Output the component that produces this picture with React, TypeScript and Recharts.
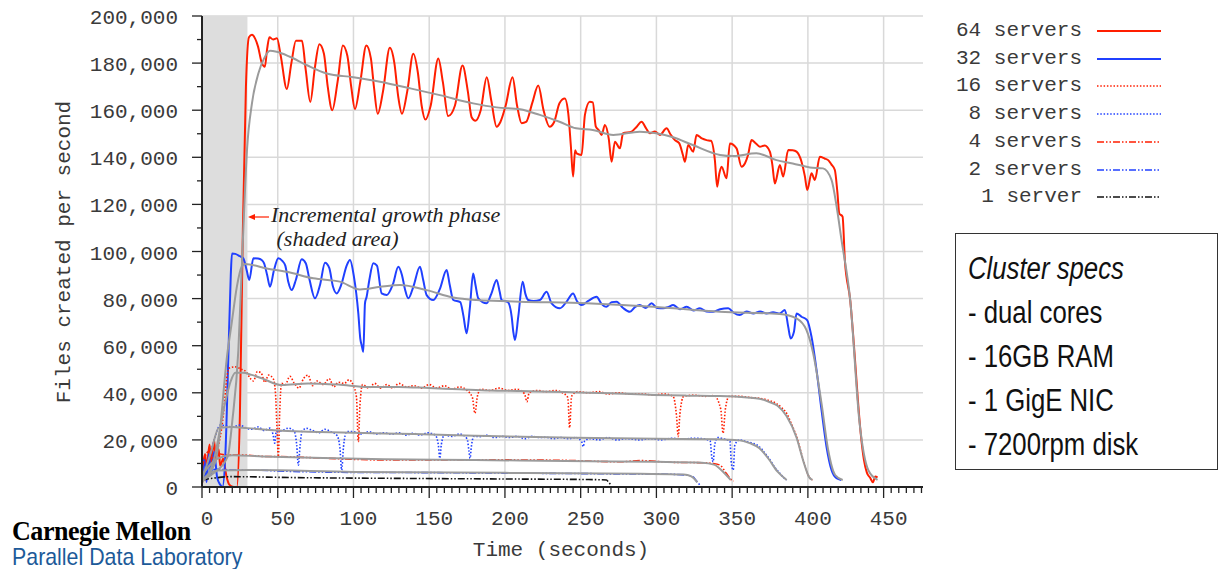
import { CartesianGrid, Line, LineChart, ReferenceArea, XAxis, YAxis } from "recharts";

type Pt = [number, number];

// [time (s), files created per second]
const servers64: Pt[] = [
  [0, 6000], [2, 14000], [3, 8000], [5, 18000], [6, 10000], [8, 20000], [9, 12000], [11, 16000],
  [12, 9000], [14, 12000], [16, 5000], [18, 1000], [21, 0], [23, 0], [25, 30000], [27, 110000],
  [29, 170000], [31, 191000], [33, 192000], [35, 190500], [37, 187000], [39.5, 180000], [41.5, 178500],
  [43, 186000], [44.5, 191000], [47, 190000], [49.5, 190500], [52, 183000], [56, 169000], [59, 180000],
  [62, 189500], [66, 189500], [68.5, 177000], [71.5, 163500], [74.5, 178000], [77.5, 188000],
  [80.5, 184000], [83, 170000], [86, 160000], [89.5, 172000], [93, 187500], [96, 183000], [98.5, 170000],
  [101, 160500], [104.5, 172000], [108.5, 187500], [111.5, 182000], [113.5, 170000], [116, 158500],
  [119.5, 168000], [124, 186500], [127, 180000], [129.5, 166000], [132, 158500], [135.5, 168000],
  [139.5, 184000], [142.5, 176000], [145, 162000], [147.5, 156000], [151, 162000], [156, 182000],
  [159, 172000], [162.5, 157500], [167, 162000], [172, 179000], [175.5, 168000], [178, 157000],
  [180.5, 155500], [184, 160000], [188, 174000], [191, 164000], [194.5, 153000], [197, 155000],
  [200.5, 162000], [205, 174000], [208, 162000], [211, 154500], [214, 155000], [218, 163000],
  [222, 170500], [225.5, 160000], [229.5, 153000], [232.5, 155000], [236, 163000], [239.5, 165000],
  [241.8, 158700], [243.5, 145000], [245, 131800], [246.3, 143000], [247.3, 141700], [250.6, 141000],
  [252.8, 158000], [256, 163600], [258, 163300], [260, 153000], [262, 151500], [263.8, 149500],
  [266, 153700], [268.5, 148000], [270.4, 138100], [272.6, 146600], [275.9, 143800], [278, 150200],
  [283.6, 150900], [287, 153000], [290.2, 155100], [293, 152500], [295.7, 150200], [299, 151000],
  [302.3, 149500], [306.7, 152300], [309.5, 149500], [312.2, 147300], [315, 146000], [317.5, 141000],
  [318.8, 138100], [321, 145200], [324.3, 142400], [326.5, 149500], [330, 148000], [333.1, 147300],
  [336, 147000], [338.6, 138800], [340.1, 127500], [341.5, 133000], [343, 136000], [346.3, 131100],
  [348.5, 145900], [352.9, 143800], [356.2, 136000], [358.5, 137500], [360.5, 141000], [362.8, 147300],
  [365.5, 146000], [368.3, 144500], [371.5, 145000], [374.9, 142400], [376.5, 137000], [378.2, 128900],
  [381.5, 136700], [383.7, 131800], [387, 143100], [390, 143000], [392.5, 142400], [395.8, 138100],
  [398, 132000], [399.6, 126100], [402.4, 133200], [404.6, 130400], [407.9, 140200], [411, 139500],
  [413.4, 138800], [415.5, 137000], [417.8, 134600], [419.5, 125000], [420.7, 116200], [422.9, 114800],
  [424.4, 96400], [428, 79000], [431, 55000], [433, 37000], [435, 22000], [437, 11500], [439, 6000],
  [441, 4000], [443, 2000], [444.5, 4500], [446, 4000],
];

const servers32: Pt[] = [
  [0, 3000], [1.5, 12000], [3, 2000], [4.5, 14000], [6, 5000], [8, 15000], [10, 4000], [12, 1000],
  [13.5, 0], [15.5, 15000], [17.4, 55300], [19, 90000], [19.8, 99200], [22, 99000], [25, 98000],
  [27.3, 97100], [29.5, 92000], [31.2, 87900], [33.9, 97100], [37, 97000], [39.4, 96400], [41, 95000],
  [43, 90000], [44.9, 85000], [47.5, 92000], [50.4, 97100], [53, 96000], [55, 94000], [57, 87000],
  [59.2, 83600], [62, 88000], [65.8, 96700], [68.5, 95000], [71, 88000], [74.6, 80100], [78, 86000],
  [81.2, 95200], [84, 93000], [86.5, 85000], [88.9, 82200], [92, 86000], [95.5, 94000], [97.7, 96400],
  [100.3, 89300], [103.2, 73700], [104.5, 63000], [105.5, 60000], [106.5, 57400], [107.6, 78000],
  [108.7, 80800], [110.5, 88000], [113.1, 95000], [115.5, 94000], [118.6, 82200], [122, 81500],
  [126, 86000], [129.6, 93500], [132, 90000], [134, 84000], [136.2, 80100], [139.5, 85000],
  [143.9, 93500], [146, 88000], [148.3, 81500], [152.7, 79400], [157, 84000], [161.5, 92100],
  [163.5, 86000], [165.9, 79400], [170.5, 78500], [172.5, 73000], [174.7, 65300], [176.9, 76500],
  [179, 90700], [180.5, 86000], [182.4, 80100], [187.9, 78000], [191, 82000], [194.5, 87900],
  [196.5, 83000], [197.8, 79400], [202, 78500], [204.5, 72000], [205.5, 66000], [206.6, 62400],
  [208.8, 72300], [211.7, 87200], [213.5, 82000], [215.4, 79400], [219, 79000], [223.1, 79400],
  [227.5, 82900], [230.8, 78000], [236.3, 75900], [240.5, 78500], [245, 82200], [247.5, 79000],
  [250.6, 77300], [255, 79000], [260.5, 80800], [263.5, 78000], [267, 76500], [270.5, 78500],
  [273.7, 78700], [278, 76000], [282.5, 74400], [286, 76500], [289, 77300], [293, 76000], [296.8, 78000],
  [300.5, 76000], [304.5, 75900], [308, 76500], [311, 77300], [315.5, 75500], [320, 76500],
  [324.5, 75000], [328.7, 75900], [333, 74500], [337.5, 74400], [342, 75500], [347.4, 75900],
  [351, 74000], [355, 73000], [359.5, 74500], [364, 73700], [368.5, 74500], [372.7, 73700],
  [377, 74200], [381.5, 73700], [384.8, 75200], [387, 68100], [388.6, 63100], [390.8, 65900],
  [392.5, 73700], [395.8, 72300], [399.5, 70900], [402.4, 63800], [405.7, 49700], [409, 32700],
  [412.3, 17100], [415.6, 7200], [418.9, 3700], [422, 3000],
];

const servers16: Pt[] = [
  [0, 2000], [5, 6000], [10, 15000], [14, 30000], [16.5, 47000], [18, 50500], [22, 51000], [26, 50000],
  [29, 49000], [32, 46000], [34, 45000], [36.5, 49000], [39, 48500], [41.5, 44500], [44, 47500],
  [47, 46000], [48.5, 40000], [49.5, 25000], [50.4, 12900], [51.2, 30000], [52.5, 44000], [55, 43500],
  [58, 47000], [61, 44000], [64, 42000], [67, 46000], [70, 47500], [73, 43000], [76, 45000], [80, 43500],
  [84, 46000], [87, 42500], [90, 44500], [94, 44000], [97, 45500], [100, 43000], [102, 38000],
  [103.2, 19200], [104.3, 35000], [106, 43500], [110, 42000], [114, 44000], [118, 42000], [122, 43500],
  [126, 42000], [130, 44000], [135, 42500], [140, 43000], [145, 42000], [150, 43500], [155, 42000],
  [160, 43000], [165, 41500], [170, 42500], [175, 41000], [178.5, 38000], [180.2, 31300], [181.8, 38500],
  [184, 41500], [190, 41000], [196, 42000], [202, 41000], [208, 41500], [213, 39500], [214.5, 36200],
  [216, 40000], [221, 41000], [227, 40500], [233, 41000], [238, 40000], [241.5, 38000], [242.7, 25200],
  [244, 38500], [248, 40500], [255, 40000], [262, 40500], [268, 39500], [275, 40000], [282, 39500],
  [290, 39500], [298, 39100], [305, 39500], [311, 38500], [313.3, 30000], [314.4, 21400], [315.5, 31000],
  [318, 38500], [325, 39000], [332, 38500], [338, 38800], [342.5, 33000], [344, 22800], [345.5, 33000],
  [348, 38500], [355, 38500], [362, 38000], [368, 37700], [373, 37000], [379, 35500], [383, 33500],
  [386, 31300], [389, 27000], [392.5, 21400], [396.9, 11500], [399, 7000], [401.3, 3800], [403, 3000],
];

const servers8: Pt[] = [
  [0, 2000], [3, 8000], [6, 15000], [9, 22000], [12, 26300], [16, 26000], [20, 25500], [25, 26300],
  [29, 25000], [33, 24500], [37, 25500], [41, 24000], [45, 25000], [47, 22000], [48, 18600], [49, 23500],
  [53, 24000], [57, 25000], [61, 23500], [62.5, 18000], [63.6, 9300], [64.8, 18000], [66, 23500],
  [69, 24900], [73, 24000], [77, 23000], [81, 24500], [85, 23500], [89, 22000], [91, 17000], [92.2, 7200],
  [93.4, 17000], [95.5, 23500], [100, 23500], [105, 22500], [110, 23500], [115, 22500], [120, 23000],
  [125, 22500], [130, 23000], [135, 22000], [139.5, 22800], [144, 22000], [149, 23000], [154, 22000],
  [156, 18000], [157, 12200], [158, 18000], [160, 22000], [165, 21500], [170, 22500], [175, 20500],
  [176.3, 15000], [177, 12200], [177.8, 17000], [179.5, 21500], [183.5, 21400], [188, 22000],
  [193, 21000], [198, 21500], [203, 21000], [208, 21500], [213, 20500], [218, 21500], [223, 21000],
  [227.5, 21100], [232, 20500], [237, 21000], [242, 20500], [247, 21000], [250.8, 19000], [251.7, 17100],
  [252.6, 19500], [256, 20500], [262, 20000], [268, 21000], [274, 20000], [280, 20500], [289, 20000],
  [296, 20500], [303, 20000], [310, 20700], [317, 20300], [324, 20700], [331, 20500], [335.5, 19500],
  [336.5, 13000], [337.5, 10700], [338.5, 18000], [340.5, 21000], [344, 20500], [348.5, 19500],
  [349.5, 10000], [350.7, 7200], [351.8, 18000], [355, 20000], [359.5, 19200], [364, 18500],
  [368, 17100], [371.5, 14500], [375, 11500], [378, 8500], [381.5, 5800], [384, 4000], [386, 3000],
];

const servers4: Pt[] = [
  [0, 8000], [4, 15000], [8, 12000], [12, 14000], [16, 13500], [22, 13600], [30, 13500], [40, 13000],
  [51.5, 12900], [70, 12500], [90, 12000], [117.5, 11500], [150, 11500], [180, 11600], [205.5, 11500],
  [240, 11300], [276, 10700], [289, 11200], [310, 10500], [330, 10300], [337.5, 10000], [342, 9300],
  [346, 5900], [349.6, 3000], [351, 2500],
];

const servers2: Pt[] = [
  [0, 3000], [5, 7000], [10, 7500], [20, 7200], [29.5, 7200], [60, 6600], [100, 6200], [150, 6100],
  [200, 5900], [250, 5700], [289, 5500], [300, 5500], [320, 5100], [324, 4400], [326.5, 2500], [328.7, 800],
];

const servers1: Pt[] = [
  [0, 3000], [20, 4400], [60, 4000], [120, 3700], [200, 3400], [250, 3200], [267, 3000], [268.5, 2000],
  [270, 800],
];

// smoothed trend of each run (grey)
const trend64: Pt[] = [
  [0, 3000], [8, 6000], [17, 13000], [20, 28000], [24, 58000], [27, 105000], [29.7, 143000],
  [33, 163000], [37.2, 175600], [41, 182000], [44.9, 185200], [49.3, 184800], [58, 182700],
  [69, 179200], [82.3, 175600], [99.9, 174000], [117.5, 172100], [137.3, 169300], [157, 166400],
  [179, 162900], [194.5, 161200], [210, 160400], [223, 158000], [236, 155100], [247, 152300],
  [258, 151600], [271.5, 149500], [289, 150900], [300, 150200], [311, 148500], [324, 145200],
  [342, 141000], [350.7, 140500], [366, 141700], [379.3, 138800], [390, 137400], [401.3, 135700],
  [410, 135300], [415.6, 130400], [419, 119000], [422.2, 104900], [428, 79000], [434, 28000],
  [440, 7000], [446, 3000],
];

const trend32: Pt[] = [
  [0, 3000], [9, 11000], [17, 58000], [19.6, 69600], [23, 85000], [26.2, 93500], [28.4, 94700],
  [42.7, 92800], [55.9, 91400], [73.5, 88600], [91, 87200], [104.3, 83900], [117.5, 85000],
  [130.7, 85800], [148.3, 83600], [165.9, 80500], [181.3, 79400], [196.7, 79000], [210, 78700],
  [254, 78000], [298, 76500], [342, 74400], [381.5, 73500], [392.5, 71600], [399, 66700],
  [403.5, 56800], [409, 35500], [413.4, 15700], [418, 5100], [423, 3000],
];

const trend16: Pt[] = [
  [0, 2000], [8, 12000], [15, 35000], [19, 45000], [22, 48500], [27, 48500], [32.8, 47600], [40, 46000],
  [52.6, 43300], [70, 44000], [90, 43500], [110, 42500], [130, 42500], [150, 42000], [170, 41500],
  [190, 41000], [210, 40800], [240, 40300], [270, 39800], [298, 39100], [320, 38800], [342, 38600],
  [360, 38000], [368, 37500], [375, 36000], [380, 34500], [386, 30000], [392.5, 21000], [397, 11000],
  [401, 4000], [403, 3000],
];

const trend8: Pt[] = [
  [0, 3000], [6, 15000], [11, 25000], [20, 25500], [30, 25000], [50, 24000], [70, 23500], [100, 23000],
  [140, 22500], [180, 21800], [220, 21200], [260, 20800], [300, 20500], [340, 20300], [355, 19800],
  [362, 18500], [368, 16500], [374, 12000], [380, 6500], [386, 3000],
];

const trend4: Pt[] = [
  [0, 5000], [10, 12000], [20, 13500], [40, 13000], [80, 12300], [120, 11800], [180, 11500],
  [240, 11000], [300, 10700], [330, 10300], [338, 9500], [344, 6500], [349, 3000],
];

const trend2: Pt[] = [
  [0, 3000], [10, 7000], [30, 7200], [100, 6400], [200, 6000], [289, 5600], [318, 5300], [323, 4500],
  [327, 2000],
];

const seriesNames = ["64 servers", "32 servers", "16 servers", "8 servers", "4 servers", "2 servers", "1 server"];
const xTicks = [0, 50, 100, 150, 200, 250, 300, 350, 400, 450];
const yTicks = [0, 20000, 40000, 60000, 80000, 100000, 120000, 140000, 160000, 180000, 200000];
const specLines = ["- dual cores", "- 16GB RAM", "- 1 GigE NIC", "- 7200rpm disk"];

const xMinorTicks = Array.from({ length: 96 }, (_, i) => i * 5);
const yMinorTicks = Array.from({ length: 21 }, (_, i) => i * 10000);

const RED = "#ff1e00";
const BLUE = "#2040ff";
const BLACK = "#111111";
const GREY = "#9b9b9b";
const DASH_DOT_DOT = "7 2 1.5 2 1.5 2";
const DOTTED = "1.5 1.8";

const seriesData = [servers64, servers32, servers16, servers8, servers4, servers2, servers1];
const seriesStyle = [
  { color: RED, dash: undefined, width: 2 },
  { color: BLUE, dash: undefined, width: 2 },
  { color: RED, dash: DOTTED, width: 1.6 },
  { color: BLUE, dash: DOTTED, width: 1.6 },
  { color: RED, dash: DASH_DOT_DOT, width: 1.6 },
  { color: BLUE, dash: DASH_DOT_DOT, width: 1.6 },
  { color: BLACK, dash: DASH_DOT_DOT, width: 1.6 },
];
const trends = [trend64, trend32, trend16, trend8, trend4, trend2];

const toRows = (pts: Pt[]) => pts.map(([t, v]) => ({ t, v }));

const MONO = "'Liberation Mono', 'DejaVu Sans Mono', monospace";
const TEXT = "#3a3a3a";
const AXIS = "#222";
const CONDENSED = "'Liberation Sans', Arial, sans-serif";

function XTick({ x, y, payload }: any) {
  const major = payload.value % 50 === 0;
  return (
    <g>
      <line x1={x} x2={x} y1={y} y2={y + (major ? 11 : 6)} stroke={AXIS} strokeWidth={1.3} />
      {major && (
        <text x={x + 5} y={y + 38} textAnchor="middle" fontFamily={MONO} fontSize={21} fill={TEXT}>
          {payload.value}
        </text>
      )}
    </g>
  );
}

function YTick({ x, y, payload }: any) {
  const major = payload.value % 20000 === 0;
  return (
    <g>
      <line x1={x - (major ? 10 : 5)} x2={x} y1={y} y2={y} stroke={AXIS} strokeWidth={1.3} />
      {major && (
        <text x={x - 24} y={y + 8} textAnchor="end" fontFamily={MONO} fontSize={21} fill={TEXT}>
          {payload.value.toLocaleString("en-US")}
        </text>
      )}
    </g>
  );
}

export default function App() {
  return (
    <div style={{ position: "absolute", left: 0, top: 0, width: 1220, height: 569, background: "#fff", overflow: "hidden" }}>
      <LineChart width={1220} height={569} margin={{ top: 16, right: 297, bottom: 0, left: 0 }}>
        <CartesianGrid
          horizontalValues={yTicks.slice(1)}
          verticalValues={xTicks.slice(1)}
          stroke="#d9d9d9"
          strokeWidth={1.5}
        />
        <XAxis
          dataKey="t"
          type="number"
          domain={[0, 476]}
          allowDataOverflow
          ticks={xMinorTicks}
          interval={0}
          tickSize={0}
          tickMargin={0}
          tickLine={false}
          tick={<XTick />}
          height={82}
          axisLine={{ stroke: AXIS, strokeWidth: 2 }}
        />
        <YAxis
          type="number"
          domain={[0, 200000]}
          ticks={yMinorTicks}
          interval={0}
          tickSize={0}
          tickMargin={0}
          tickLine={false}
          tick={<YTick />}
          width={202}
          axisLine={{ stroke: AXIS, strokeWidth: 2 }}
        />
        <ReferenceArea x1={0} x2={30} y1={0} y2={200000} fill="#dddddd" fillOpacity={1} stroke="none" />
        {seriesData.map((pts, i) => (
          <Line
            key={seriesNames[i]}
            data={toRows(pts)}
            dataKey="v"
            type="monotone"
            stroke={seriesStyle[i].color}
            strokeWidth={seriesStyle[i].width}
            strokeDasharray={seriesStyle[i].dash}
            dot={false}
            activeDot={false}
            isAnimationActive={false}
          />
        ))}
        {trends.map((pts, i) => (
          <Line
            key={"trend" + i}
            data={toRows(pts)}
            dataKey="v"
            type="monotone"
            stroke={GREY}
            strokeWidth={2}
            dot={false}
            activeDot={false}
            isAnimationActive={false}
          />
        ))}
      </LineChart>

      {/* axis titles */}
      <div
        style={{
          position: "absolute", left: 65 - 200, top: 252 - 13, width: 400, height: 26, textAlign: "center",
          transform: "rotate(-90deg)", fontFamily: MONO, fontSize: 21, color: TEXT, lineHeight: "26px",
          whiteSpace: "pre",
        }}
      >
        Files created per second
      </div>
      <div
        style={{
          position: "absolute", left: 561 - 150, top: 551 - 13, width: 300, height: 26, textAlign: "center",
          fontFamily: MONO, fontSize: 21, color: TEXT, lineHeight: "26px", whiteSpace: "pre",
        }}
      >
        Time (seconds)
      </div>

      {/* annotation */}
      <svg style={{ position: "absolute", left: 246, top: 208 }} width={26} height={18}>
        <line x1={6} y1={9} x2={23} y2={9} stroke={RED} strokeWidth={1.2} />
        <path d="M2,9 L9,6 L9,12 Z" fill={RED} />
      </svg>
      <div
        style={{
          position: "absolute", left: 271, top: 203, fontFamily: "'Liberation Serif', serif", fontStyle: "italic",
          fontSize: 22, lineHeight: "24px", color: "#222", whiteSpace: "pre",
        }}
      >
        {"Incremental growth phase\n (shaded area)"}
      </div>

      {/* legend */}
      {seriesNames.map((name, i) => {
        const cy = 31 + i * 27.7;
        const st = seriesStyle[i];
        return (
          <div key={name}>
            <div
              style={{
                position: "absolute", left: 900, width: 182, top: cy - 13, height: 26, lineHeight: "26px",
                textAlign: "right", fontFamily: MONO, fontSize: 21, color: TEXT, whiteSpace: "pre",
              }}
            >
              {name}
            </div>
            <svg style={{ position: "absolute", left: 1096, top: cy - 5 }} width={66} height={10}>
              <line x1={1} x2={65} y1={5} y2={5} stroke={st.color} strokeWidth={st.width} strokeDasharray={st.dash} />
            </svg>
          </div>
        );
      })}

      {/* cluster specs */}
      <div
        style={{
          position: "absolute", left: 955, top: 233, width: 263, height: 237, boxSizing: "border-box",
          border: "1.5px solid #333", paddingLeft: 12, paddingTop: 13,
          fontFamily: CONDENSED, fontSize: 31, lineHeight: "44px", color: "#111", whiteSpace: "pre",
        }}
      >
        <div style={{ fontStyle: "italic", transform: "scaleX(0.83)", transformOrigin: "left center" }}>
          Cluster specs
        </div>
        {specLines.map((s) => (
          <div key={s} style={{ transform: "scaleX(0.83)", transformOrigin: "left center" }}>
            {s}
          </div>
        ))}
      </div>

      {/* lab logo */}
      <div
        style={{
          position: "absolute", left: 12, top: 518, fontFamily: "'Liberation Serif', serif", fontWeight: 700,
          fontSize: 28, lineHeight: "26px", color: "#000", whiteSpace: "pre", transform: "scaleX(0.93)",
          transformOrigin: "left center", letterSpacing: -0.5,
        }}
      >
        Carnegie Mellon
      </div>
      <div
        style={{
          position: "absolute", left: 12, top: 546, fontFamily: CONDENSED,
          fontSize: 24, lineHeight: "22px", color: "#1c5a99", whiteSpace: "pre", transform: "scaleX(0.89)",
          transformOrigin: "left center",
        }}
      >
        Parallel Data Laboratory
      </div>
    </div>
  );
}
